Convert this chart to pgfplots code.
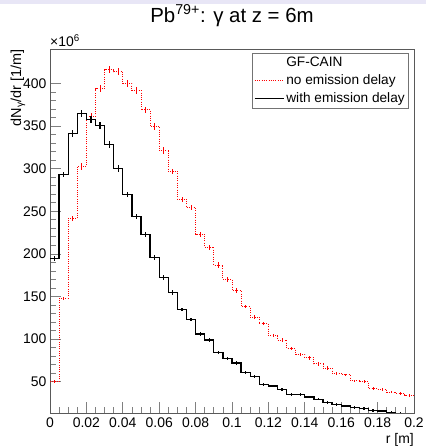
\documentclass[border=0pt]{standalone}
\usepackage{pgfplots}
\usepackage{pgfplotstable}
\pgfplotsset{compat=1.18}
\usepackage{fontspec}
\setmainfont{Liberation Sans}
\pgfplotstableread{
x     red  black ered eblack
0.000 50   195   1.5  3
0.005 148  293   2    3
0.010 242  341   3    4
0.015 303  365   4    4
0.020 361  358   4    4
0.025 394  351   4    4
0.030 416  328   4    4
0.035 414  300   4    4
0.040 400  270   4    3
0.045 392  244   4    3
0.050 369  223   4    3
0.055 350  196   4    3
0.060 321  172   4    3
0.065 297  155   3    3
0.070 264  135   3    2
0.075 254  123   3    2
0.080 223  106   3    2
0.085 208  99    3    2
0.090 187  84    3    2
0.095 170  77    3    2
0.100 157  72    3    2
0.105 138  61    2    2
0.110 126  56    2    1.5
0.115 118  47    2    1.5
0.120 104  45    2    1.5
0.125 99   41    2    1.5
0.130 89   35    2    1.5
0.135 82   35    2    1.5
0.140 78   32    2    1.5
0.145 71   29.5  2    1.5
0.150 66   25.4  2    1.5
0.155 60   23.5  2    1.5
0.160 58   21.5  1.5  1.5
0.165 51   20    1.5  1.5
0.170 50   18.3  1.5  1.5
0.175 42   16    1.5  1.5
0.180 41   15.6  1.5  1.5
0.185 38   14    1.5  1.5
0.190 36   13    1.5  1.5
0.195 34   12    1.5  1.5
0.200 34   12    1.5  1.5
}\histdata
\begin{document}
\begin{tikzpicture}[x=1bp,y=1bp]
\useasboundingbox (0,0) rectangle (426,446);
\fill[fill={rgb,255:red,232;green,230;blue,246}] (0,442) rectangle (426,446);
\begin{axis}[
  at={(50bp,33bp)}, anchor=south west,
  scale only axis, width=364bp, height=364bp,
  clip mode=individual,
  xmin=0, xmax=0.2, ymin=13.3, ymax=440.5,
  xtick={0,0.02,0.04,0.06,0.08,0.1,0.12,0.14,0.16,0.18,0.2},
  xticklabels={0,0.02,0.04,0.06,0.08,0.1,0.12,0.14,0.16,0.18,0.2},
  ytick={50,100,150,200,250,300,350,400},
  yticklabels={50,100,150,200,250,300,350,400},
  minor x tick num=3, minor y tick num=4,
  tick align=inside, tick pos=left,
  major tick length=11bp, minor tick length=5.5bp,
  tick style={black!50, line width=0.8bp},
  axis line style={black!65, line width=0.8bp},
  ticklabel style={font=\fontsize{14}{16}\selectfont},
  xticklabel style={yshift=-1bp},
  /pgf/number format/assume math mode=true,
  title={Pb\textsuperscript{79+}: γ at z = 6m},
  title style={at={(axis description cs:0.5,1)}, anchor=base, yshift=21bp, font=\fontsize{20.5}{23}\selectfont},
  xlabel={r [m]},
  xlabel style={at={(axis description cs:1,0)}, anchor=north east, yshift=-20bp, inner sep=0pt, font=\fontsize{14}{16}\selectfont},
  ylabel={dN\textsubscript{γ}/dr [1/m]},
  ylabel style={at={(axis description cs:-0.088,1)}, anchor=east, inner sep=0pt, font=\fontsize{14.5}{16}\selectfont},
  legend image code/.code={\draw[#1] (0bp,0bp) -- (29bp,0bp);},
  legend style={at={(axis description cs:1,1)}, anchor=north east, xshift=-5bp, yshift=-4bp,
    draw=black!55, line width=0.6bp, font=\fontsize{13.7}{15}\selectfont,
    cells={anchor=west}, row sep=2.5bp, inner sep=2bp},
]
\addlegendimage{empty legend}
\addlegendentry{GF-CAIN}
\addplot[red, line width=0.9bp, dash pattern=on 1bp off 1.3bp, const plot] table[x=x, y=red]{\histdata};
\addlegendentry{no emission delay}
\addplot[black, line width=1.3bp, const plot] table[x=x, y=black]{\histdata};
\addlegendentry{with emission delay}
\addplot[forget plot, draw=none, mark=none, error bars/.cd, y dir=both, y explicit, error mark=none,
  error bar style={red, line width=0.8bp}] table[x expr=\thisrow{x}+0.0025, y=red, y error=ered]{\histdata};
\addplot[forget plot, draw=none, mark=none, error bars/.cd, y dir=both, y explicit, error mark=none,
  error bar style={black, line width=1.2bp}] table[x expr=\thisrow{x}+0.0025, y=black, y error=eblack]{\histdata};
\node[anchor=base west, inner sep=0pt, font=\fontsize{14}{16}\selectfont] at ([yshift=2.5bp]rel axis cs:0,1) {×10\textsuperscript{6}};
\end{axis}
\end{tikzpicture}
\end{document}
